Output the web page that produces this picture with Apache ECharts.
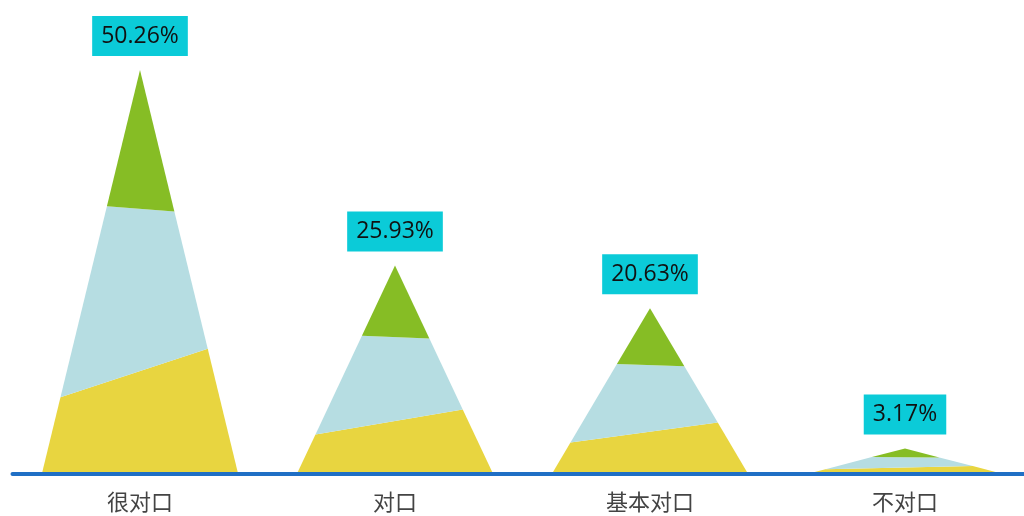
<!DOCTYPE html>
<html>
<head>
<meta charset="utf-8">
<script src="https://cdn.jsdelivr.net/npm/echarts@6/dist/echarts.min.js"></script>
<style>html,body{margin:0;padding:0;background:#fff;}#c{width:1024px;height:516px;}</style>
</head>
<body>
<div id="c"></div>
<script>
const categories = ['很对口', '对口', '基本对口', '不对口'];
const values = [50.26, 25.93, 20.63, 3.17];
// layer boundaries as fractions of triangle height [left side, right side]
const yellowTop = [0.19, 0.31];
const greenBottom = [0.663, 0.65];

const colors = { yellow: '#E8D540', blue: '#B6DDE2', green: '#86BD25', label: '#0BCBD8', axis: '#1F6FC5' };

function renderItem(params, api) {
  const idx = api.value(0), v = api.value(1);
  const apex = api.coord([idx, v]);
  const base = api.coord([idx, 0]);
  const hw = api.size([1, 0])[0] * 0.385;
  const H = base[1] - apex[1];
  const cx = base[0], by = base[1];
  const L = f => [cx - hw * (1 - f), by - H * f];
  const R = f => [cx + hw * (1 - f), by - H * f];
  return {
    type: 'group',
    children: [
      { type: 'polygon', shape: { points: [L(0), R(0), R(yellowTop[1]), L(yellowTop[0])] }, style: { fill: colors.yellow } },
      { type: 'polygon', shape: { points: [L(yellowTop[0]), R(yellowTop[1]), R(greenBottom[1]), L(greenBottom[0])] }, style: { fill: colors.blue } },
      { type: 'polygon', shape: { points: [L(greenBottom[0]), R(greenBottom[1]), [cx, by - H]] }, style: { fill: colors.green } }
    ]
  };
}

const chart = echarts.init(document.getElementById('c'), null, { renderer: 'canvas' });
chart.setOption({
  animation: false,
  backgroundColor: '#fff',
  grid: { left: 12.5, width: 1020, top: 32, bottom: 42, outerBoundsMode: 'none', containLabel: false },
  xAxis: {
    type: 'category',
    data: categories,
    z: 10,
    axisLine: { lineStyle: { color: colors.axis, width: 4 } },
    axisTick: { show: false },
    axisLabel: { fontSize: 22, color: '#444', margin: 17, fontFamily: '"Noto Sans CJK SC", sans-serif' },
    splitLine: { show: false }
  },
  yAxis: { type: 'value', min: 0, max: 55, show: false, splitLine: { show: false } },
  series: [
    {
      type: 'custom',
      renderItem: renderItem,
      data: values.map((v, i) => [i, v]),
      encode: { x: 0, y: 1 }
    },
    {
      type: 'scatter',
      data: values,
      symbolSize: 0,
      silent: true,
      itemStyle: { opacity: 1 },
      label: {
        show: true,
        position: 'top',
        distance: 14,
        opacity: 1,
        formatter: p => p.value.toFixed(2) + '%',
        backgroundColor: colors.label,
        color: '#111',
        fontSize: 23,
        lineHeight: 28,
        fontFamily: '"Open Sans", sans-serif',
        padding: [6, 9]
      }
    }
  ]
});
</script>
</body>
</html>
